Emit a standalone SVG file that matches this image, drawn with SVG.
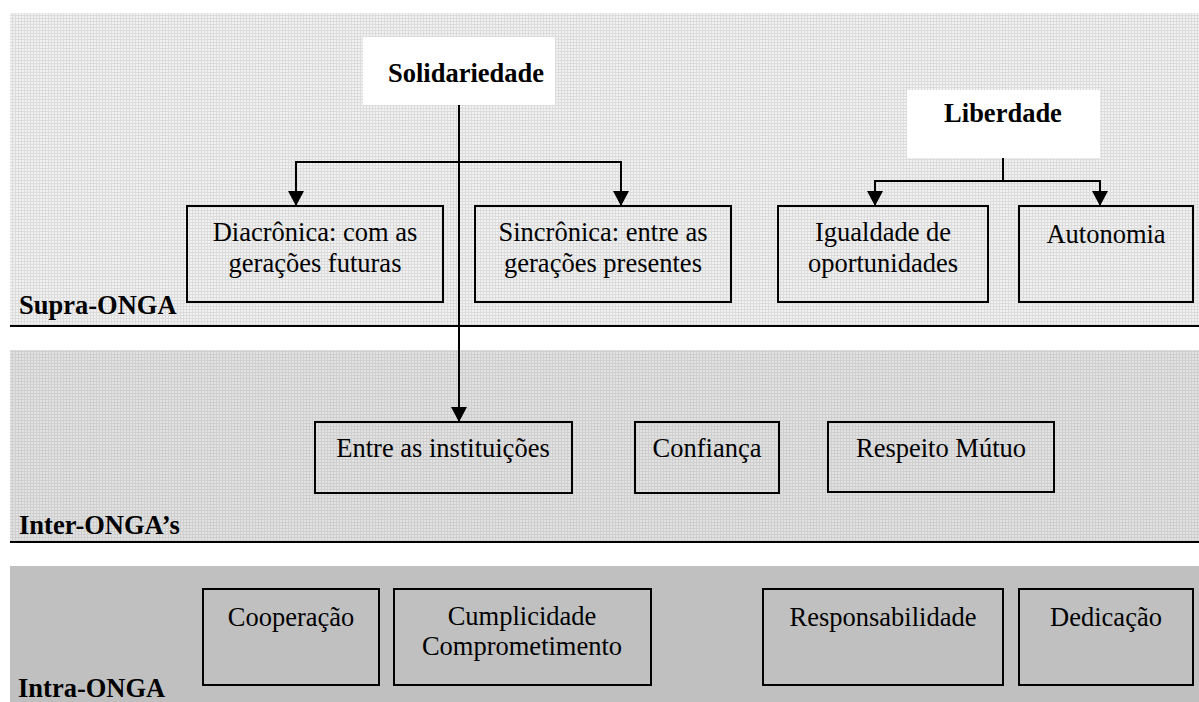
<svg xmlns="http://www.w3.org/2000/svg" width="1199" height="702" viewBox="0 0 1199 702">
<style>
.box{fill:none;stroke:#000;stroke-width:2}
.t{font-family:"Liberation Serif","Times New Roman",Times,"DejaVu Serif",serif;font-size:26.5px;fill:#000;text-anchor:middle}
.b{font-family:"Liberation Serif","Times New Roman",Times,"DejaVu Serif",serif;font-size:26.5px;font-weight:bold;fill:#000}
.c{fill:none;stroke:#000;stroke-width:2}
.sep{stroke:#000;stroke-width:2}
</style>
<defs>
<pattern id="g1" width="3" height="3" patternUnits="userSpaceOnUse">
<rect width="3" height="3" fill="#f1f1f1"/>
<path d="M0 0.5H3M0.5 0V3" stroke="#dcdcdc" stroke-width="1"/>
</pattern>
<pattern id="g2" width="3" height="3" patternUnits="userSpaceOnUse">
<rect width="3" height="3" fill="#e2e2e2"/>
<path d="M0 0.5H3M0.5 0V3" stroke="#cfcfcf" stroke-width="1"/>
</pattern>
<marker id="ah" viewBox="0 0 15 16" refX="15" refY="8" markerWidth="15" markerHeight="16" markerUnits="userSpaceOnUse" orient="auto">
<path d="M0 0L15 8L0 16Z" fill="#000"/>
</marker>
</defs>
<rect width="1199" height="702" fill="#fff"/>
<g id="bands">
<rect x="10" y="13" width="1189" height="313" fill="url(#g1)"/>
<line class="sep" x1="10" y1="326" x2="1199" y2="326"/>
<rect x="10" y="350" width="1189" height="191" fill="url(#g2)"/>
<line class="sep" x1="10" y1="542" x2="1199" y2="542"/>
<rect x="10" y="566" width="1189" height="136" fill="#c0c0c0"/>
</g>
<g id="labels">
<text class="b" x="19" y="314">Supra-ONGA</text>
<text class="b" x="19" y="534">Inter-ONGA’s</text>
<text class="b" x="18" y="697">Intra-ONGA</text>
</g>
<g id="solidariedade">
<rect x="363" y="37" width="192" height="68" fill="#fff"/>
<text class="b" x="466" y="82" text-anchor="middle">Solidariedade</text>
</g>
<g id="liberdade">
<rect x="907" y="90" width="193" height="68" fill="#fff"/>
<text class="b" x="1003" y="122" text-anchor="middle">Liberdade</text>
</g>
<g id="diacronica">
<rect class="box" x="187" y="206" width="256" height="96"/>
<text class="t" x="315" y="241">Diacrônica: com as</text>
<text class="t" x="315" y="272">gerações futuras</text>
</g>
<g id="sincronica">
<rect class="box" x="475" y="206" width="256" height="96"/>
<text class="t" x="603" y="241">Sincrônica: entre as</text>
<text class="t" x="603" y="272">gerações presentes</text>
</g>
<g id="igualdade">
<rect class="box" x="778" y="206" width="210" height="96"/>
<text class="t" x="883" y="241">Igualdade de</text>
<text class="t" x="883" y="272">oportunidades</text>
</g>
<g id="autonomia">
<rect class="box" x="1019" y="206" width="174" height="96"/>
<text class="t" x="1106" y="243">Autonomia</text>
</g>
<g id="entre">
<rect class="box" x="315" y="422" width="257" height="71"/>
<text class="t" x="443" y="457">Entre as instituições</text>
</g>
<g id="confianca">
<rect class="box" x="635" y="422" width="144" height="71"/>
<text class="t" x="707" y="457">Confiança</text>
</g>
<g id="respeito">
<rect class="box" x="828" y="422" width="226" height="70"/>
<text class="t" x="941" y="457">Respeito Mútuo</text>
</g>
<g id="cooperacao">
<rect class="box" x="203" y="589" width="176" height="96"/>
<text class="t" x="291" y="626">Cooperação</text>
</g>
<g id="cumplicidade">
<rect class="box" x="394" y="589" width="257" height="96"/>
<text class="t" x="522" y="625">Cumplicidade</text>
<text class="t" x="522" y="655">Comprometimento</text>
</g>
<g id="responsabilidade">
<rect class="box" x="763" y="589" width="240" height="96"/>
<text class="t" x="883" y="626">Responsabilidade</text>
</g>
<g id="dedicacao">
<rect class="box" x="1019" y="589" width="174" height="96"/>
<text class="t" x="1106" y="626">Dedicação</text>
</g>
<g id="connectors">
<path class="c" d="M459 105V422" marker-end="url(#ah)"/>
<path class="c" d="M459 162H296V206" marker-end="url(#ah)"/>
<path class="c" d="M459 162H621V206" marker-end="url(#ah)"/>
<path class="c" d="M1003 158V181"/>
<path class="c" d="M1003 181H875V206" marker-end="url(#ah)"/>
<path class="c" d="M1003 181H1100V206" marker-end="url(#ah)"/>
</g>
</svg>
